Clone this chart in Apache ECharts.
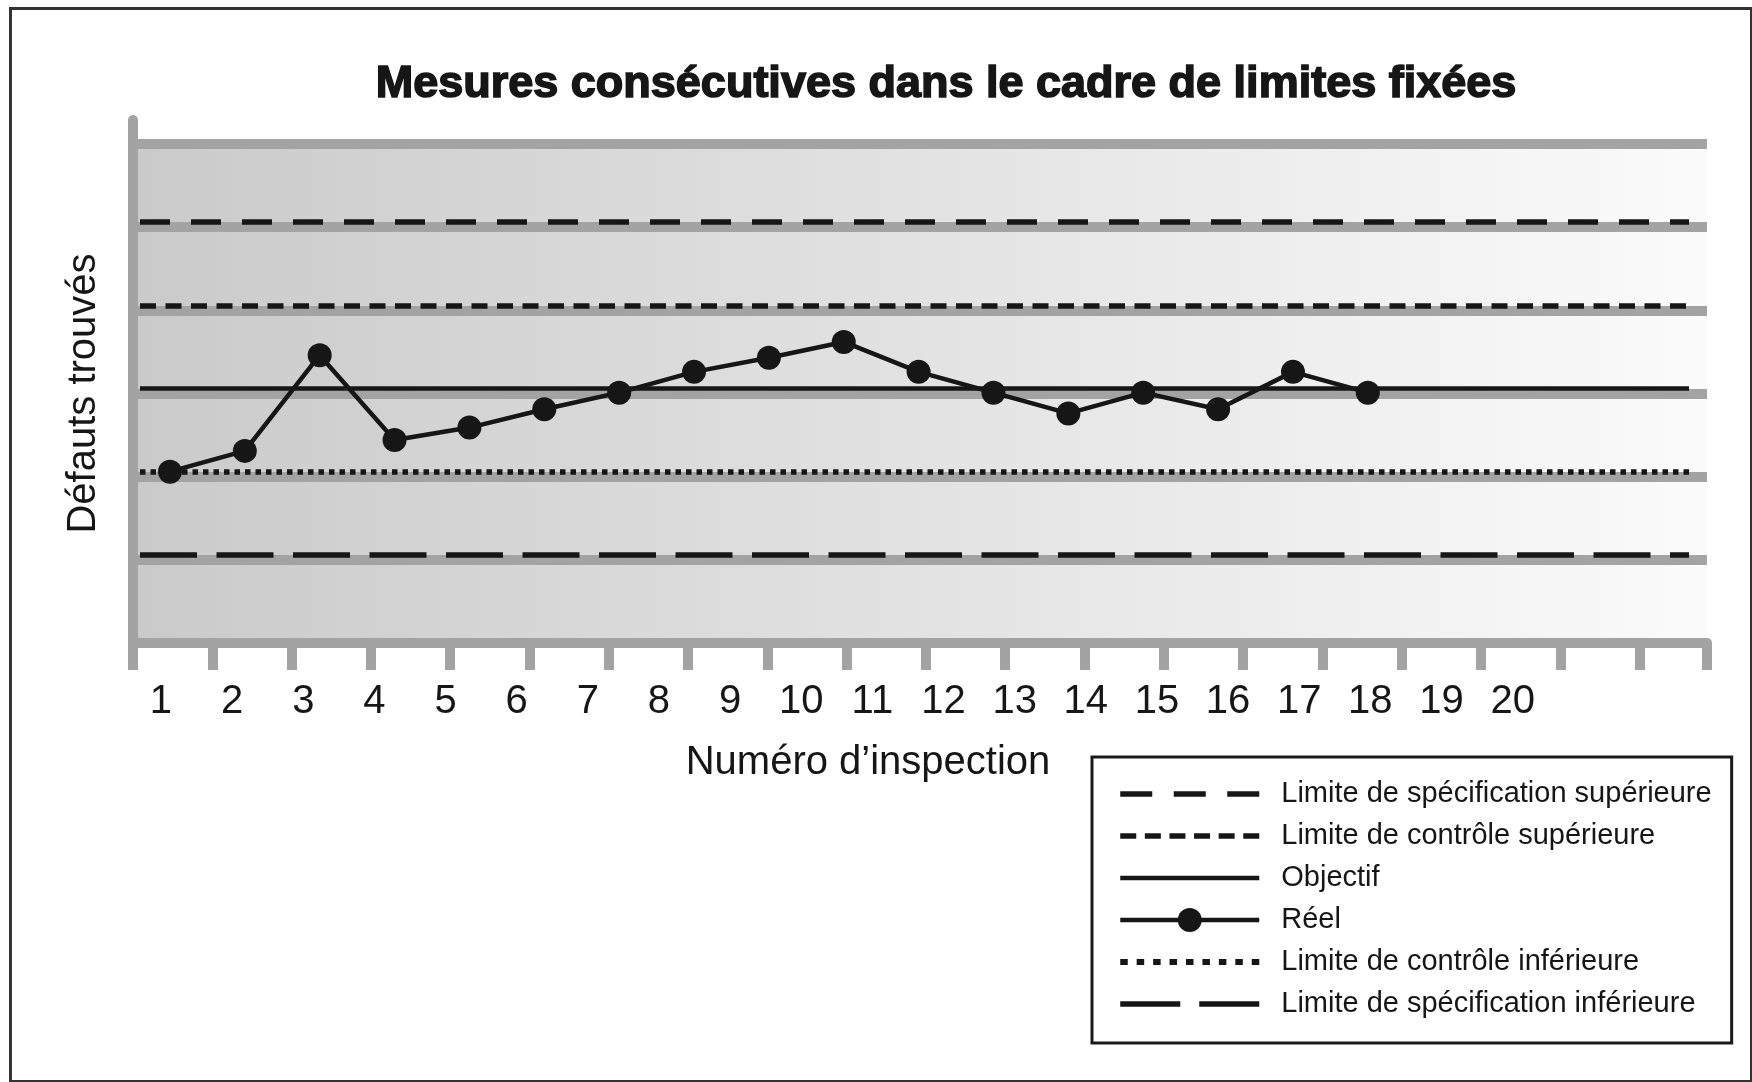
<!DOCTYPE html>
<html>
<head>
<meta charset="utf-8">
<script src="https://cdn.jsdelivr.net/npm/echarts@6/dist/echarts.min.js"></script>
<style>
html,body{margin:0;padding:0;background:#ffffff;}
#c{width:1752px;height:1082px;}
</style>
</head>
<body>
<div id="c"></div>
<script>
// ---------- data ----------
const titleText = 'Mesures consécutives dans le cadre de limites fixées';
const xAxisTitle = 'Numéro d’inspection';
const yAxisTitle = 'Défauts trouvés';
const tickLabels = ['1','2','3','4','5','6','7','8','9','10','11','12','13','14','15','16','17','18','19','20'];
const inspections = [1,2,3,4,5,6,7,8,9,10,11,12,13,14,15,16,17];
const reel = [2.0, 2.25, 3.4, 2.38, 2.53, 2.75, 2.95, 3.2, 3.37, 3.56, 3.2, 2.95, 2.7, 2.95, 2.75, 3.2, 2.95];
const limitNames = [
  'Limite de spécification supérieure',
  'Limite de contrôle supérieure',
  'Objectif',
  'Limite de contrôle inférieure',
  'Limite de spécification inférieure'
];
const limitValues = [5, 4, 3, 2, 1];
const reelName = 'Réel';

// ---------- styles ----------
const GRAY = '#a3a3a3';
const INK = '#161616';
const limitDash = [[30, 21], [16, 9.5], 'solid', [5.5, 5], [57, 19.5]];
const limitWidth = [5.5, 5.5, 4.5, 5.5, 5.5];
// legend icon patterns: [dash, gap, count, thickness]
const legendPattern = [[32, 21.5, 3, 5.5], [16, 8.6, 6, 5.5], [139, 0, 1, 4.5], [7.5, 8.94, 9, 6], [60, 19, 2, 5.5]];
const FONT = '"Liberation Sans", Arial, Helvetica, sans-serif';

function dashIcon(p) {
  const d = p[0], g = p[1], n = p[2], h = p[3];
  let s = 'path://';
  for (let k = 0; k < n; k++) {
    const x0 = k * (d + g);
    s += 'M' + x0.toFixed(2) + ',0H' + (x0 + d).toFixed(2) + 'V' + h + 'H' + x0.toFixed(2) + 'Z';
  }
  return s;
}

const chart = echarts.init(document.getElementById('c'), null, {renderer: 'canvas'});

const limitSeries = limitNames.map((name, i) => ({
  name: name,
  type: 'line',
  xAxisIndex: 3,
  yAxisIndex: 3,
  data: [],
  symbol: 'none',
  lineStyle: {color: INK, width: limitWidth[i], type: limitDash[i]},
  itemStyle: {color: INK},
  z: 3,
  markLine: {
    silent: true,
    symbol: ['none', 'none'],
    label: {show: false},
    emphasis: {disabled: true},
    lineStyle: {color: INK, width: limitWidth[i], type: limitDash[i]},
    data: [{yAxis: limitValues[i]}]
  }
}));

const legendOrder = [limitNames[0], limitNames[1], limitNames[2], reelName, limitNames[3], limitNames[4]];
const legendData = legendOrder.map(n => {
  const i = limitNames.indexOf(n);
  if (i < 0) return {name: n, lineStyle: {color: INK, width: 4.5, type: 'solid'}, itemStyle: {color: INK}};
  return {name: n, icon: dashIcon(legendPattern[i]), itemStyle: {color: INK}};
});

const option = {
  animation: false,
  backgroundColor: '#ffffff',
  title: {
    text: titleText,
    left: 946,
    top: 62,
    textAlign: 'center',
    padding: 0,
    textStyle: {fontFamily: FONT, fontWeight: 'bold', fontSize: 45, color: INK, textBorderColor: INK, textBorderWidth: 1.6}
  },
  graphic: [{
    type: 'rect', left: 8, top: 6, silent: true,
    shape: {width: 1741, height: 1073},
    style: {fill: 'none', stroke: '#333333', lineWidth: 3}
  }],
  legend: {
    orient: 'vertical',
    left: 1092,
    top: 757,
    padding: [19, 20, 21, 26],
    itemGap: 6,
    itemWidth: 139,
    itemHeight: 30,
    symbolKeepAspect: true,
    backgroundColor: '#ffffff',
    borderColor: '#1a1a1a',
    borderWidth: 3,
    selectedMode: false,
    textStyle: {fontFamily: FONT, fontSize: 29, lineHeight: 36, color: INK, padding: [0, 0, 0, 17]},
    data: legendData
  },
  grid: [
    {left: 133, right: 45, top: 144, bottom: 439, show: true, borderWidth: 0,
     backgroundColor: {type: 'linear', x: 0, y: 0, x2: 1, y2: 0,
       colorStops: [{offset: 0, color: '#cacaca'}, {offset: 1, color: '#fbfbfb'}]}},
    {left: 133, right: 45, top: 120, bottom: 439},
    {left: 125.4, right: 203.8, top: 144, bottom: 439},
    {left: 140, right: 63, top: 139, bottom: 444}
  ],
  xAxis: [
    {gridIndex: 0, type: 'value', min: 0, max: 19.85, interval: 1,
     axisLine: {show: true, onZero: false, lineStyle: {color: GRAY, width: 10}},
     axisTick: {show: true, length: 27, lineStyle: {color: GRAY, width: 10}},
     axisLabel: {show: false}, splitLine: {show: false},
     name: xAxisTitle, nameLocation: 'middle', nameGap: 100,
     nameTextStyle: {fontFamily: FONT, fontSize: 40, color: INK, padding: [0, 104, 0, 0]}},
    {gridIndex: 1, type: 'value', show: false},
    {gridIndex: 2, type: 'category', data: tickLabels, boundaryGap: true,
     axisLine: {show: false}, axisTick: {show: false}, splitLine: {show: false},
     axisLabel: {show: true, interval: 0, margin: 39, fontFamily: FONT, fontSize: 40, color: INK}},
    {gridIndex: 3, type: 'value', min: 0.6, max: 21.29, show: false}
  ],
  yAxis: [
    {gridIndex: 0, type: 'value', min: 0, max: 6, interval: 1,
     axisLine: {show: false}, axisTick: {show: false}, axisLabel: {show: false},
     splitLine: {show: true, lineStyle: {color: GRAY, width: 10}},
     name: yAxisTitle, nameLocation: 'middle', nameRotate: 90, nameGap: 29,
     nameTextStyle: {fontFamily: FONT, fontSize: 40, color: INK}},
    {gridIndex: 1, type: 'value', min: 0, max: 1,
     axisLine: {show: true, onZero: false, lineStyle: {color: GRAY, width: 10}},
     axisTick: {show: false}, axisLabel: {show: false}, splitLine: {show: false}},
    {gridIndex: 2, type: 'value', show: false},
    {gridIndex: 3, type: 'value', min: 0, max: 6, show: false}
  ],
  series: limitSeries.concat([{
    name: reelName,
    type: 'line',
    xAxisIndex: 3,
    yAxisIndex: 3,
    data: inspections.map((x, i) => [x, reel[i]]),
    symbol: 'circle',
    symbolSize: 24,
    showSymbol: true,
    lineStyle: {color: INK, width: 4.5},
    itemStyle: {color: INK},
    z: 6
  }])
};
chart.setOption(option);
</script>
</body>
</html>
